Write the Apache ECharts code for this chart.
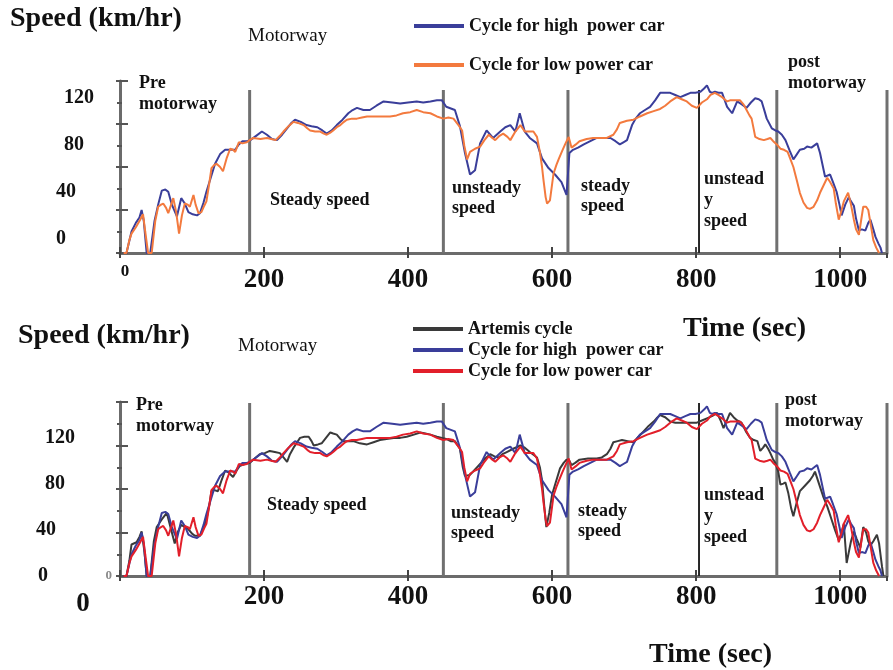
<!DOCTYPE html>
<html>
<head>
<meta charset="utf-8">
<script src="https://cdn.jsdelivr.net/npm/echarts@6/dist/echarts.min.js"></script>
<style>
  html, body { margin: 0; padding: 0; background: #fff; }
  #chart { width: 893px; height: 670px; }
</style>
</head>
<body>
<div id="chart"></div>
<script>
// Time axis tick labels (s) and speed tick labels (km/hr)
const timeTicks = [0, 200, 400, 600, 800, 1000];
const speedTickLabels = [0, 40, 80, 120];
// Boundaries between driving phases (s)
const sectionBounds = [180, 449, 622, 804, 912, 1065];

// [time s, speed km/hr]
const highPowerCycle = [
  [5,0],[9,0],[16,20],[22,28],[27,33],[30,40],[33,30],[37,0],[42,0],[48,30],[53,45],[58,58],[63,59],[67,57],[72,45],[79,34],[85,51],[90,46],[95,38],[101,36],[107,35],[111,37],[116,47],[120,57],[126,70],[132,83],[139,92],[146,96],[153,96],[160,96],[165,101],[170,104],[176,104],[181,105],[189,109],[197,113],[204,110],[211,106],[218,105],[225,110],[232,116],[238,121],[243,124],[251,122],[259,119],[266,118],[274,117],[281,114],[287,111],[294,114],[301,119],[309,124],[317,130],[323,133],[329,135],[338,133],[347,133],[356,137],[366,141],[378,140],[389,139],[400,140],[412,141],[421,140],[431,141],[440,142],[447,142],[453,136],[465,133],[472,118],[479,93],[486,73],[493,77],[500,102],[509,114],[518,107],[528,113],[535,117],[542,119],[549,113],[555,130],[562,113],[569,107],[579,102],[586,88],[595,79],[604,73],[613,66],[620,54],[624,93],[629,96],[636,98],[644,101],[653,104],[662,107],[672,107],[681,107],[688,104],[694,101],[699,103],[704,105],[711,119],[716,125],[722,130],[729,133],[736,136],[743,142],[750,149],[757,149],[764,149],[771,147],[778,145],[785,147],[792,149],[799,149],[806,150],[811,153],[815,156],[819,150],[822,149],[826,150],[831,149],[836,149],[843,136],[850,130],[857,141],[864,138],[870,135],[876,140],[882,144],[887,143],[891,141],[895,132],[898,125],[905,116],[910,114],[914,113],[919,110],[924,105],[930,95],[935,87],[940,92],[944,96],[950,97],[954,99],[960,98],[968,102],[972,93],[979,71],[986,73],[990,66],[995,57],[999,45],[1002,35],[1007,45],[1012,52],[1015,48],[1019,44],[1022,32],[1026,21],[1030,22],[1035,21],[1039,28],[1042,31],[1046,22],[1049,15],[1053,9],[1056,5],[1058,0]
];

const lowPowerCycle = [
  [5,0],[9,0],[13,12],[16,18],[22,24],[28,31],[32,36],[35,20],[39,0],[44,0],[49,30],[53,43],[57,45],[60,46],[64,42],[67,37],[71,45],[74,51],[78,38],[82,18],[86,35],[90,46],[94,45],[97,43],[102,54],[105,45],[109,37],[113,38],[117,44],[120,48],[124,65],[127,79],[131,82],[134,83],[139,80],[143,76],[148,88],[153,97],[157,96],[160,94],[165,103],[170,102],[176,103],[180,105],[185,107],[195,106],[204,107],[210,106],[216,105],[222,109],[227,113],[234,118],[241,122],[247,121],[255,119],[260,116],[264,114],[271,113],[278,113],[283,111],[287,110],[292,112],[296,114],[301,117],[306,119],[311,122],[315,124],[322,125],[329,125],[336,126],[343,127],[355,127],[366,127],[375,127],[384,128],[393,130],[403,131],[412,133],[421,131],[431,130],[440,127],[449,125],[456,126],[463,125],[470,119],[475,114],[478,100],[482,87],[486,94],[493,97],[500,99],[506,105],[512,110],[517,107],[521,105],[527,109],[532,111],[538,108],[542,105],[549,113],[556,119],[562,113],[568,113],[574,113],[579,108],[583,94],[586,80],[588,68],[591,52],[593,46],[597,49],[600,64],[602,74],[606,82],[609,87],[614,95],[618,101],[623,108],[627,98],[633,101],[638,104],[648,106],[657,107],[667,107],[676,107],[685,110],[690,115],[694,121],[704,123],[713,124],[722,127],[732,130],[741,132],[750,134],[757,137],[764,141],[773,145],[780,143],[787,141],[794,137],[801,135],[808,140],[815,143],[820,147],[826,149],[831,147],[836,145],[843,141],[847,142],[852,142],[857,142],[861,142],[866,138],[870,133],[874,128],[877,125],[880,115],[882,108],[888,106],[894,105],[899,106],[903,107],[907,104],[912,101],[917,97],[922,96],[927,94],[931,87],[935,80],[940,67],[944,56],[949,47],[954,42],[958,41],[963,43],[968,49],[972,56],[977,63],[982,70],[986,66],[991,60],[994,46],[998,31],[1002,40],[1005,48],[1011,56],[1015,45],[1019,31],[1022,22],[1026,17],[1029,30],[1032,43],[1036,43],[1039,40],[1042,28],[1046,12],[1050,5],[1054,0]
];

const artemisCycle = [
  [5,0],[9,0],[13,14],[16,29],[23,31],[27,36],[30,41],[34,22],[37,0],[42,0],[47,32],[51,45],[58,52],[65,58],[70,45],[76,30],[80,40],[85,47],[90,45],[95,43],[100,39],[104,37],[111,37],[116,45],[120,52],[124,65],[127,78],[131,79],[136,78],[141,88],[146,97],[151,95],[157,91],[162,97],[166,101],[173,103],[180,104],[187,108],[194,112],[201,113],[208,115],[215,114],[222,113],[227,109],[232,105],[236,112],[241,118],[246,123],[250,127],[256,128],[262,128],[266,124],[269,120],[275,121],[280,122],[286,127],[292,132],[296,131],[301,130],[306,126],[310,124],[317,124],[324,124],[333,122],[343,121],[352,123],[361,125],[370,126],[380,127],[389,127],[398,128],[408,130],[417,132],[424,131],[431,130],[440,128],[447,127],[453,126],[459,124],[465,124],[472,117],[476,100],[479,92],[486,93],[493,98],[500,103],[507,108],[514,112],[520,110],[526,109],[531,112],[537,114],[546,117],[556,120],[562,118],[569,114],[575,111],[579,109],[583,100],[586,88],[589,65],[592,45],[596,58],[600,75],[605,86],[611,99],[616,104],[620,107],[624,106],[627,102],[632,104],[638,107],[650,108],[662,108],[669,109],[676,112],[681,117],[685,123],[691,124],[697,125],[705,124],[713,123],[720,128],[727,133],[734,138],[741,142],[745,145],[750,148],[757,146],[764,142],[771,141],[778,141],[790,141],[801,141],[808,143],[815,145],[822,147],[829,150],[834,143],[838,136],[842,142],[847,150],[852,146],[857,143],[863,141],[869,133],[875,127],[880,125],[885,124],[889,115],[893,118],[896,121],[900,117],[903,113],[907,107],[910,104],[914,96],[917,84],[921,85],[924,86],[928,76],[932,62],[935,55],[939,66],[944,78],[951,83],[958,88],[962,92],[965,96],[968,90],[972,82],[977,72],[982,64],[985,58],[988,52],[993,42],[998,33],[1002,40],[1005,48],[1007,30],[1009,12],[1012,22],[1015,32],[1019,41],[1023,34],[1028,26],[1032,45],[1036,40],[1039,32],[1042,28],[1046,32],[1051,38],[1054,30],[1058,9],[1060,0]
];

const NAME_HIGH = 'Cycle for high  power car';
const NAME_LOW = 'Cycle for low power car';
const NAME_ART = 'Artemis cycle';

const SERIF = "'Liberation Serif', 'Times New Roman', serif";
const C_BLUE = '#3a3e9a';
const C_ORANGE = '#f37a3e';
const C_RED = '#e21f2a';
const C_BLACK = '#3a3a3a';
const C_AXIS = '#6b6b6b';

const chart = echarts.init(document.getElementById('chart'), null, { renderer: 'canvas' });

function timeAxes(gridIndex, zeroStyle, margin) {
  return [
    {
      gridIndex, type: 'value', position: 'bottom', min: 0, max: 1065, interval: 200,
      axisLine: { lineStyle: { color: C_AXIS, width: 3 } },
      axisTick: { length: 5, lineStyle: { color: '#444', width: 2 } },
      splitLine: { show: false },
      axisLabel: {
        margin,
        formatter: v => timeTicks.includes(v) ? (v === 0 ? '{' + zeroStyle + '|0}' : '{n|' + v + '}') : '',
        rich: {
          n: { fontFamily: SERIF, fontWeight: 'bold', fontSize: 27, color: '#111', padding: gridIndex === 0 ? [4, 0, 0, 0] : [0, 0, 0, 0] },
          z: { fontFamily: SERIF, fontWeight: 'bold', fontSize: 17, color: '#111', padding: [0, 0, 0, 10] },
          zb: { fontFamily: SERIF, fontWeight: 'bold', fontSize: 27, color: '#111', padding: [7, 74, 0, 0] }
        }
      }
    },
    {
      gridIndex, type: 'value', position: 'bottom', min: 0, max: 1065, interval: 200,
      axisLine: { show: false },
      axisTick: { inside: true, length: 6, lineStyle: { color: '#444', width: 2 } },
      axisLabel: { show: false },
      splitLine: { show: false }
    }
  ];
}

// labelPads: extra right padding for the 0 / 40 / 80 / 120 labels
function speedAxes(gridIndex, labelMin, labelMax, labelMargin, labelPads, zeroLabel) {
  const rich = {};
  speedTickLabels.forEach((v, i) => {
    rich['p' + v] = { fontFamily: SERIF, fontWeight: 'bold', fontSize: 20, color: '#111', padding: [0, labelPads[i], 0, 0] };
  });
  return [
    {
      gridIndex, type: 'value', position: 'left', min: 0, max: 160, interval: 40,
      axisLine: { show: true, lineStyle: { color: C_AXIS, width: 3 } },
      axisTick: { show: true, length: 4, lineStyle: { color: '#555', width: 2 } },
      minorTick: { show: true, splitNumber: 2, length: 3, lineStyle: { color: '#555', width: 2 } },
      splitLine: { show: false },
      axisLabel: zeroLabel
        ? { show: true, margin: 8, color: '#8a8a8a', fontFamily: SERIF, fontWeight: 'bold', fontSize: 13, formatter: v => v === 0 ? '0' : '' }
        : { show: false }
    },
    {
      gridIndex, type: 'value', position: 'left', min: 0, max: 160, interval: 40,
      axisLine: { show: false },
      axisTick: { show: true, inside: true, length: 8, lineStyle: { color: '#555', width: 2 } },
      minorTick: { show: true, splitNumber: 2, length: 2, lineStyle: { color: '#555', width: 2 } },
      splitLine: { show: false },
      axisLabel: { show: false }
    },
    {
      gridIndex, type: 'value', position: 'left', min: labelMin, max: labelMax, interval: 4,
      axisLine: { show: false },
      axisTick: { show: false },
      splitLine: { show: false },
      axisLabel: {
        margin: labelMargin,
        formatter: v => speedTickLabels.includes(v) ? '{p' + v + '|' + v + '}' : '',
        rich
      }
    }
  ];
}

function traceSeries(name, data, color, xAxisIndex, yAxisIndex) {
  return {
    type: 'line', name, data, xAxisIndex, yAxisIndex,
    symbol: 'none', smooth: false, z: 3,
    lineStyle: { color, width: 2 },
    itemStyle: { color },
    emphasis: { disabled: true },
    silent: true
  };
}

function sectionSeries(xAxisIndex, yAxisIndex, topOffset) {
  return {
    type: 'custom', xAxisIndex, yAxisIndex, silent: true, z: 2,
    data: sectionBounds.map(t => [t, 0]),
    renderItem(params, api) {
      const base = api.coord([api.value(0), 0]);
      const top = params.coordSys.y + topOffset;
      const dark = params.dataIndex === 3;
      return {
        type: 'line',
        shape: { x1: base[0], y1: base[1], x2: base[0], y2: top },
        style: { stroke: dark ? '#262626' : '#707070', lineWidth: dark ? 2 : 3 }
      };
    }
  };
}

function textEl(text, x, y, font, lineHeight) {
  return {
    type: 'text', x, y, silent: true,
    style: {
      text, font, fill: '#111',
      lineHeight: lineHeight || undefined,
      align: 'left', verticalAlign: 'top',
      textAlign: 'left', textVerticalAlign: 'top'
    }
  };
}

const B18 = 'bold 18px ' + SERIF;
const B28 = 'bold 28px ' + SERIF;
const B27 = 'bold 27px ' + SERIF;
const N19 = '19px ' + SERIF;

const legendText = { fontFamily: SERIF, fontWeight: 'bold', fontSize: 18, color: '#111', lineHeight: 20 };

const option = {
  animation: false,
  backgroundColor: '#fff',
  grid: [
    { left: 120, top: 81, width: 767, height: 172 },
    { left: 120, top: 402, width: 767, height: 174 }
  ],
  xAxis: [
    ...timeAxes(0, 'z', 10),
    ...timeAxes(1, 'zb', 8)
  ],
  yAxis: [
    ...speedAxes(0, -12, 134, 26, [28, 18, 10, 0], false),
    ...speedAxes(1, 0, 151, 45, [27, 19, 10, 0], true)
  ],
  legend: [
    {
      orient: 'vertical', left: 414, top: 16, padding: 0, itemWidth: 50, itemHeight: 4, itemGap: 19,
      icon: 'rect', selectedMode: false, textStyle: legendText,
      data: [
        { name: NAME_HIGH, itemStyle: { color: C_BLUE } },
        { name: NAME_LOW, itemStyle: { color: C_ORANGE } }
      ]
    },
    {
      orient: 'vertical', left: 413, top: 319, padding: 0, itemWidth: 50, itemHeight: 4, itemGap: 1,
      icon: 'rect', selectedMode: false, textStyle: legendText,
      data: [
        { name: NAME_ART, itemStyle: { color: C_BLACK } },
        { name: NAME_HIGH, itemStyle: { color: C_BLUE } },
        { name: NAME_LOW, itemStyle: { color: C_RED } }
      ]
    }
  ],
  series: [
    sectionSeries(0, 0, 9),
    traceSeries(NAME_HIGH, highPowerCycle, C_BLUE, 0, 0),
    traceSeries(NAME_LOW, lowPowerCycle, C_ORANGE, 0, 0),
    sectionSeries(2, 3, 1),
    traceSeries(NAME_ART, artemisCycle, C_BLACK, 2, 3),
    traceSeries(NAME_HIGH, highPowerCycle, C_BLUE, 2, 3),
    traceSeries(NAME_LOW, lowPowerCycle, C_RED, 2, 3)
  ],
  graphic: [
    // upper panel
    textEl('Speed (km/hr)', 10, 5, B28),
    textEl('Motorway', 248, 27, N19),
    textEl('Pre\nmotorway', 139, 73, B18, 21),
    textEl('Steady speed', 270, 190, B18, 20),
    textEl('unsteady\nspeed', 452, 178, B18, 20),
    textEl('steady\nspeed', 581, 176, B18, 20),
    textEl('unstead\ny\nspeed', 704, 169, B18, 21),
    textEl('post\nmotorway', 788, 52, B18, 21),
    textEl('Time (sec)', 683, 315, B28),
    // lower panel
    textEl('Speed (km/hr)', 18, 322, B28),
    textEl('Motorway', 238, 337, N19),
    textEl('Pre\nmotorway', 136, 395, B18, 21),
    textEl('Steady speed', 267, 495, B18, 20),
    textEl('unsteady\nspeed', 451, 503, B18, 20),
    textEl('steady\nspeed', 578, 501, B18, 20),
    textEl('unstead\ny\nspeed', 704, 485, B18, 21),
    textEl('post\nmotorway', 785, 390, B18, 21),
    textEl('Time (sec)', 649, 641, B28)
  ]
};

chart.setOption(option);
</script>
</body>
</html>
